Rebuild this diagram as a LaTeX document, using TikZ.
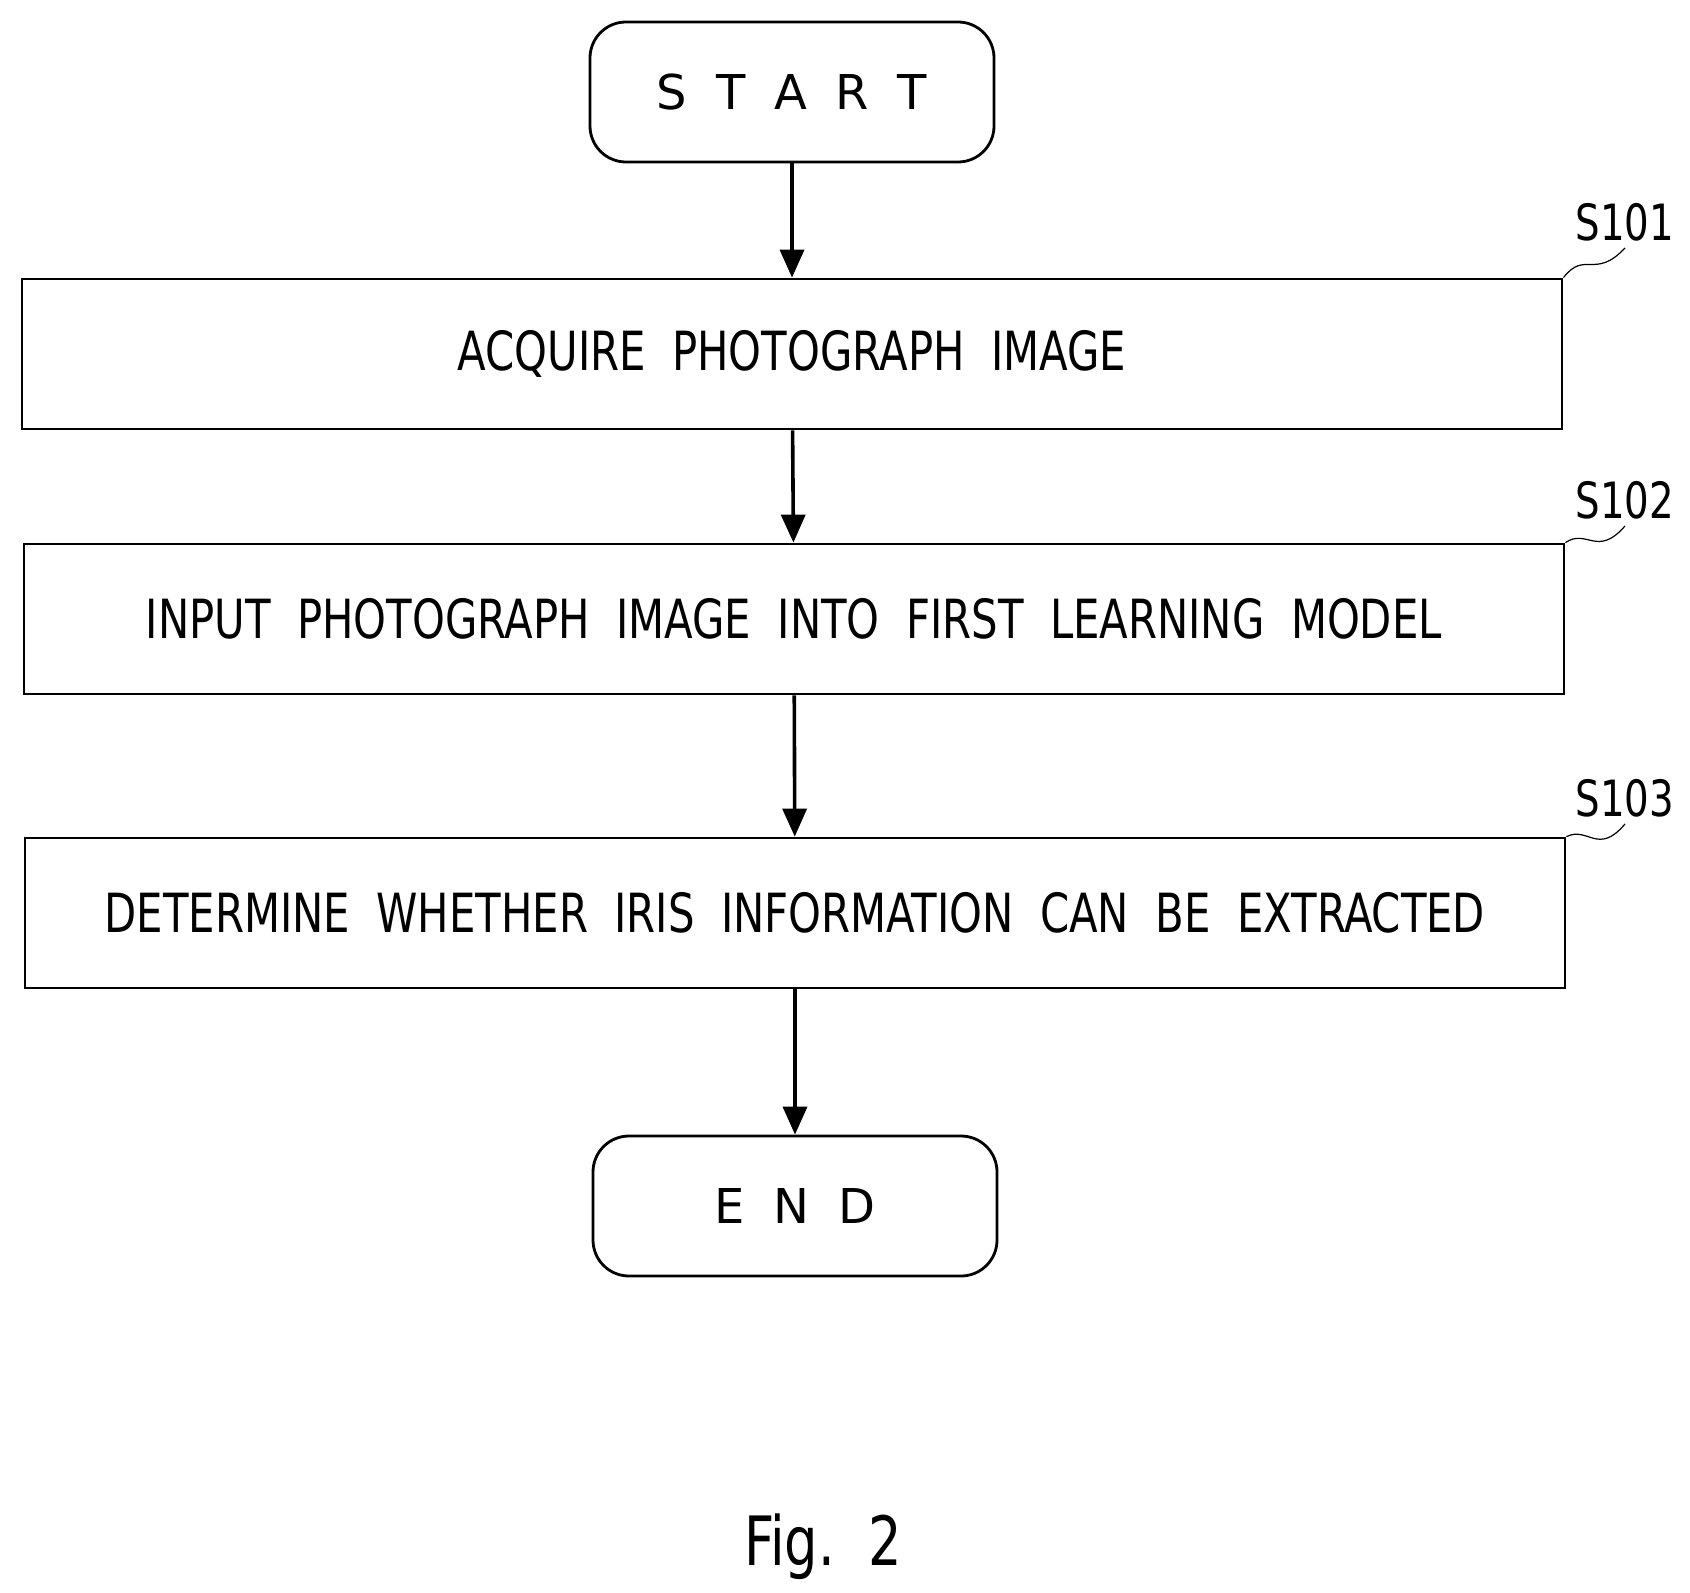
\documentclass[tikz,border=0pt]{standalone}
\usepackage{fontspec}
\setmainfont[FakeStretch=0.86]{DejaVu Sans Condensed}
\newfontfamily\termfont{DejaVu Sans}
\usetikzlibrary{positioning, arrows.meta}
\begin{document}
\begin{tikzpicture}[
    x=0.5pt, y=-0.5pt,
    >={Triangle[length=14pt,width=12pt]},
    stepbox/.style={
        rectangle,
        draw,
        line width=1.4pt,
        minimum width=770pt,
        minimum height=75pt,
        inner sep=2pt,
        font=\fontsize{27}{29}\selectfont
    },
    term/.style={
        rectangle,
        draw,
        rounded corners=18pt,
        line width=1.4pt,
        minimum width=202pt,
        minimum height=70pt,
        font=\termfont\fontsize{24}{26}\selectfont
    },
    arrow/.style={->, line width=1.8pt},
    tag/.style={font=\fontsize{25}{27}\selectfont}
]
\useasboundingbox (0,0) rectangle (1690,1593);

% Terminals and steps
\node[term] (start) at (792,92) {S\hspace{0.6em}T\hspace{0.6em}A\hspace{0.6em}R\hspace{0.6em}T};
\node[stepbox] (acquire) at (792,354) {ACQUIRE\ \ PHOTOGRAPH\ \ IMAGE};
\node[stepbox] (input) at (794,619) {INPUT\ \ PHOTOGRAPH\ \ IMAGE\ \ INTO\ \ FIRST\ \ LEARNING\ \ MODEL};
\node[stepbox] (decide) at (795,913) {DETERMINE\ \ WHETHER\ \ IRIS\ \ INFORMATION\ \ CAN\ \ BE\ \ EXTRACTED};
\node[term] (end) at (795,1206) {E\hspace{0.6em}N\hspace{0.6em}D};

% Step labels
\node[tag] (s101) at (1625,222) {S101};
\node[tag] (s102) at (1625,500) {S102};
\node[tag] (s103) at (1625,798) {S103};
\draw[line width=0.6pt] (acquire.north east) .. controls (1585,250) and (1595,280) .. (s101.south);
\draw[line width=0.6pt] (input.north east) .. controls (1587,528) and (1597,558) .. (s102.south);
\draw[line width=0.6pt] (decide.north east) .. controls (1588,826) and (1598,856) .. (s103.south);

% Arrows
\draw[arrow] (start) -- (acquire);
\draw[arrow] (acquire) -- (input);
\draw[arrow] (input) -- (decide);
\draw[arrow] (decide) -- (end);

% Caption
\node[font=\fontsize{34}{36}\selectfont] (caption) at (823,1547) {Fig.\ \ 2};
\end{tikzpicture}
\end{document}
